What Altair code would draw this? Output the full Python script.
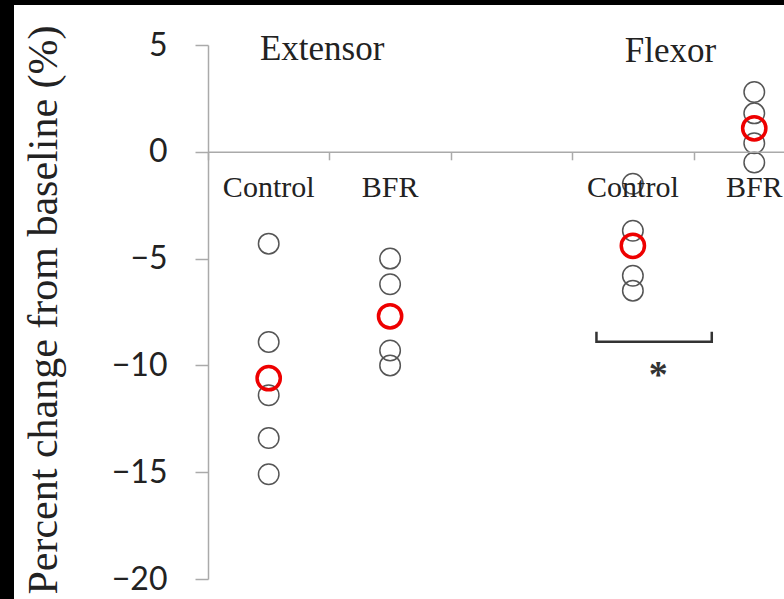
import altair as alt
import pandas as pd

# ---- data ----
muscles = ["Extensor", "Extensor", "Flexor", "Flexor"]
conditions = ["Control", "BFR", "Control", "BFR"]
slots = [0.5, 1.5, 3.5, 4.5]          # category slot on the x scale (slot 2.5 left empty)
individual = [
    [-4.3, -8.9, -11.4, -13.4, -15.1],  # Extensor Control
    [-5.0, -6.2, -9.3, -10.0],          # Extensor BFR
    [-1.5, -3.7, -5.8, -6.5],           # Flexor Control
    [2.8, 1.8, 0.4, -0.5],              # Flexor BFR
]
means = [-10.6, -7.7, -4.4, 1.1]
y_ticks = [5, 0, -5, -10, -15, -20]
x_ticks = [0, 1, 2, 3, 4]
y_title = "Percent change from baseline (%)"
header_labels = ["Extensor", "Flexor"]
header_x = [0.94, 3.81]
header_y = [4.3, 4.2]
cond_label_y = -2.1
sig_x = [3.2, 3.2, 4.15, 4.15]
sig_y = [-8.42, -8.89, -8.89, -8.42]
star_x = [3.71]
star_y = [-11.0]

# ---- tables ----
pts = pd.DataFrame(
    [{"x": s, "y": v} for s, vals in zip(slots, individual) for v in vals]
)
mean_df = pd.DataFrame({"x": slots, "y": means})
cond_df = pd.DataFrame({"x": slots, "y": [cond_label_y] * 4, "t": conditions})
head_df = pd.DataFrame({"x": header_x, "y": header_y, "t": header_labels})
sig_df = pd.DataFrame({"x": sig_x, "y": sig_y, "o": list(range(len(sig_x)))})
star_df = pd.DataFrame({"x": star_x, "y": star_y, "t": ["*"]})

W, H = 576, 534
SERIF = "Liberation Serif"
TITLE_FONT = "Times New Roman, DejaVu Serif, serif"
xscale = alt.Scale(domain=[0, 4.745], nice=False, zero=False)
yscale = alt.Scale(domain=[-20, 5], nice=False, zero=False)

x_axis = alt.Axis(
    values=x_ticks, labels=False, tickSize=8, offset=-427.2, grid=False,
    domainColor="#aaaaaa", tickColor="#aaaaaa", domainWidth=1.5, tickWidth=1.5,
    title=None, zindex=1,
)
y_axis = alt.Axis(
    values=y_ticks, tickSize=13, labelPadding=28, grid=False,
    labelFont="Lato", labelFontSize=32, labelColor="#222222",
    domainColor="#aaaaaa", tickColor="#aaaaaa", domainWidth=1.5, tickWidth=1.5,
    title=None, zindex=1,
)

one = pd.DataFrame({"a": [0]})

bg = alt.Chart(one).mark_rect(color="white").encode(
    x=alt.value(-194), x2=alt.value(W), y=alt.value(-40), y2=alt.value(H + 20)
)

title_text = alt.Chart(one).mark_text(
    font=TITLE_FONT, fontSize=42, color="#222222", align="center",
    baseline="alphabetic", angle=270, fontWeight="normal", fontStyle="normal",
).encode(x=alt.value(-151), y=alt.value(265), text=alt.value(y_title))

points = alt.Chart(pts).mark_point(
    shape="circle", filled=False, size=420, strokeWidth=1.5, color="#555555", opacity=1
)

mean_pts = alt.Chart(mean_df).mark_point(
    shape="circle", filled=False, size=540, strokeWidth=3.5, color="#ee0000", opacity=1
)

cond_text = alt.Chart(cond_df).mark_text(
    font=SERIF, fontSize=30, color="#222222", align="center",
    baseline="alphabetic",
).encode(text="t:N")

head_text = alt.Chart(head_df).mark_text(
    font=SERIF, fontSize=35, color="#222222", align="center",
    baseline="alphabetic",
).encode(text="t:N")

bracket = alt.Chart(sig_df).mark_line(color="#333333", strokeWidth=2.5).encode(
    order="o:Q"
)

star = alt.Chart(star_df).mark_text(
    font=SERIF, fontSize=38, color="#333333", align="center",
    baseline="alphabetic", fontWeight="bold",
).encode(text="t:N")

chart = alt.layer(
    bg, title_text, points, cond_text, head_text, bracket, star, mean_pts
).encode(
    x=alt.X("x:Q", scale=xscale, axis=x_axis),
    y=alt.Y("y:Q", scale=yscale, axis=y_axis),
).properties(
    width=W, height=H,
    padding={"left": 208, "top": 45, "right": 0, "bottom": 20},
    autosize=alt.AutoSizeParams(type="none"),
    background="black",
).configure_view(stroke=None)

chart.save("out.html", embed_options={"renderer": "svg", "actions": False})
